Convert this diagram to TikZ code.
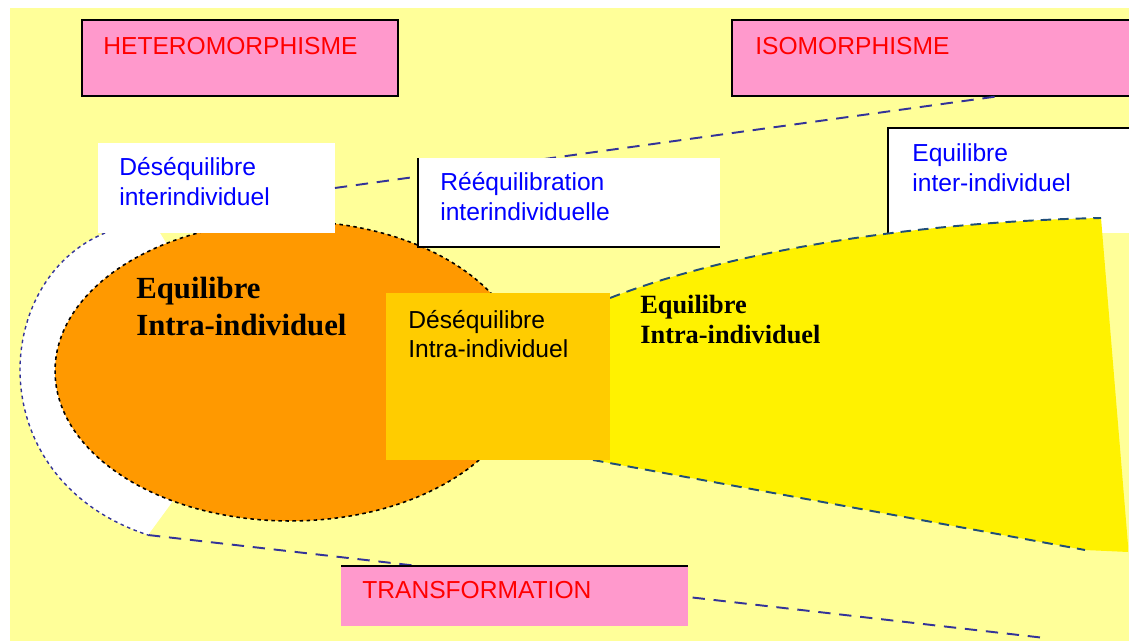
\documentclass[tikz,border=0pt]{standalone}
\usepackage{fontspec}
\setmainfont{Liberation Serif}
\setsansfont{Liberation Sans}
\usepackage{tikz}
\usetikzlibrary{positioning, calc, shapes.geometric}
\definecolor{bgyellow}{HTML}{FFFF99}
\definecolor{boxpink}{HTML}{FF99CC}
\definecolor{ballorange}{HTML}{FF9900}
\definecolor{rectgold}{HTML}{FFCC00}
\definecolor{linkblue}{HTML}{333399}
\definecolor{edgenavy}{HTML}{1F4E79}

\begin{document}
\begin{tikzpicture}[x=0.02cm, y=-0.02cm,
    box/.style={anchor=north west, inner sep=0pt, outer sep=0pt},
    pinkbox/.style={box, fill=boxpink},
    whitebox/.style={box, fill=white},
    border/.style={black, line width=1.6pt},
    redtxt/.style={anchor=north west, inner sep=0pt, text=red, font=\sffamily\fontsize{14}{17}\selectfont},
    bluetxt/.style={anchor=north west, inner sep=0pt, align=left, text=blue, font=\sffamily\fontsize{14}{17}\selectfont},
    link/.style={linkblue, line width=1.1pt, dash pattern=on 7pt off 5pt},
    rim/.style={edgenavy, line width=1.1pt, dash pattern=on 6pt off 4pt}]
    \useasboundingbox (0,0) rectangle (1129,641);
    \fill[bgyellow] (10,8) rectangle (1129,641);

    % Lower dashed link
    \coordinate (rimend) at (148,535);
    \coordinate (farend) at (1045,638);
    \draw[link] (rimend) -- (farend);

    % White rim and orange ball
    \fill[white] (105,233) .. controls (-10,280) and (-20,480) .. (rimend) -- (170,505) -- (250,380) -- (160,233) -- cycle;
    \draw[linkblue, line width=0.8pt, dash pattern=on 2pt off 2pt] (105,233) .. controls (-10,280) and (-20,480) .. (rimend);
    \node[ellipse, fill=ballorange, draw=black, line width=0.9pt, dash pattern=on 2pt off 2pt,
        minimum width=9.4cm, minimum height=6cm, inner sep=0pt] (ball) at (290,371) {};

    % Boxes
    \node[whitebox, minimum width=4.74cm, minimum height=1.8cm] (desinter) at (98,143) {};
    \node[pinkbox, draw=black, line width=1.6pt, minimum width=6.32cm, minimum height=1.52cm] (hetero) at (82,20) {};
    \node[pinkbox, minimum width=8cm, minimum height=1.52cm] (iso) at (732,20) {};
    \draw[border] (iso.north east) -- (iso.north west) -- (iso.south west) -- (iso.south east);
    \coordinate (isoend) at (1000,96);
    \draw[link] (desinter.east) -- (isoend);
    \node[whitebox, minimum width=6.04cm, minimum height=1.78cm] (reeq) at (418,158) {};
    \draw[border] (reeq.north west) -- (reeq.south west) -- (reeq.south east);
    \node[whitebox, minimum width=4.9cm, minimum height=2.1cm] (eqinter) at (888,128) {};
    \draw[border] (eqinter.south west) -- (eqinter.north west) -- (eqinter.north east);
    \node[pinkbox, minimum width=6.94cm, minimum height=1.2cm] (trans) at (341,566) {};
    \draw[border] (trans.north west) -- (trans.north east);

    % Yellow fan
    \fill[yellow] (610,298) .. controls (720,255) and (900,222) .. (1101,218) -- (1128,545) -- (1128,552) -- (1085,550) -- (593,460) -- cycle;
    \draw[rim] (610,298) .. controls (720,255) and (900,222) .. (1101,218);
    \draw[rim] (593,460) -- (1085,550);
    \node[box, fill=rectgold, minimum width=4.48cm, minimum height=3.34cm] (desintra) at (386,293) {};

    % Labels
    \node[redtxt] (heterotxt) at ([shift={(21,17)}]hetero.north west) {HETEROMORPHISME};
    \node[redtxt] (isotxt) at ([shift={(23,17)}]iso.north west) {ISOMORPHISME};
    \node[redtxt] (transtxt) at ([shift={(21,15)}]trans.north west) {TRANSFORMATION};
    \node[bluetxt] (desintertxt) at ([shift={(21,14)}]desinter.north west) {Déséquilibre\\interindividuel};
    \node[bluetxt] (reeqtxt) at ([shift={(22,14)}]reeq.north west) {Rééquilibration\\interindividuelle};
    \node[bluetxt] (eqintertxt) at ([shift={(24,15)}]eqinter.north west) {Equilibre\\inter-individuel};
    \node[anchor=north west, inner sep=0pt, align=left, font=\bfseries\fontsize{17.5}{21}\selectfont] (balltxt) at (136,277) {Equilibre\\Intra-individuel};
    \node[anchor=north west, inner sep=0pt, align=left, font=\sffamily\fontsize{14}{16.5}\selectfont] (desintratxt) at ([shift={(22,17)}]desintra.north west) {Déséquilibre\\Intra-individuel};
    \node[anchor=north west, inner sep=0pt, align=left, font=\bfseries\fontsize{15}{17}\selectfont] (fantxt) at (640,295) {Equilibre\\Intra-individuel};
\end{tikzpicture}
\end{document}
